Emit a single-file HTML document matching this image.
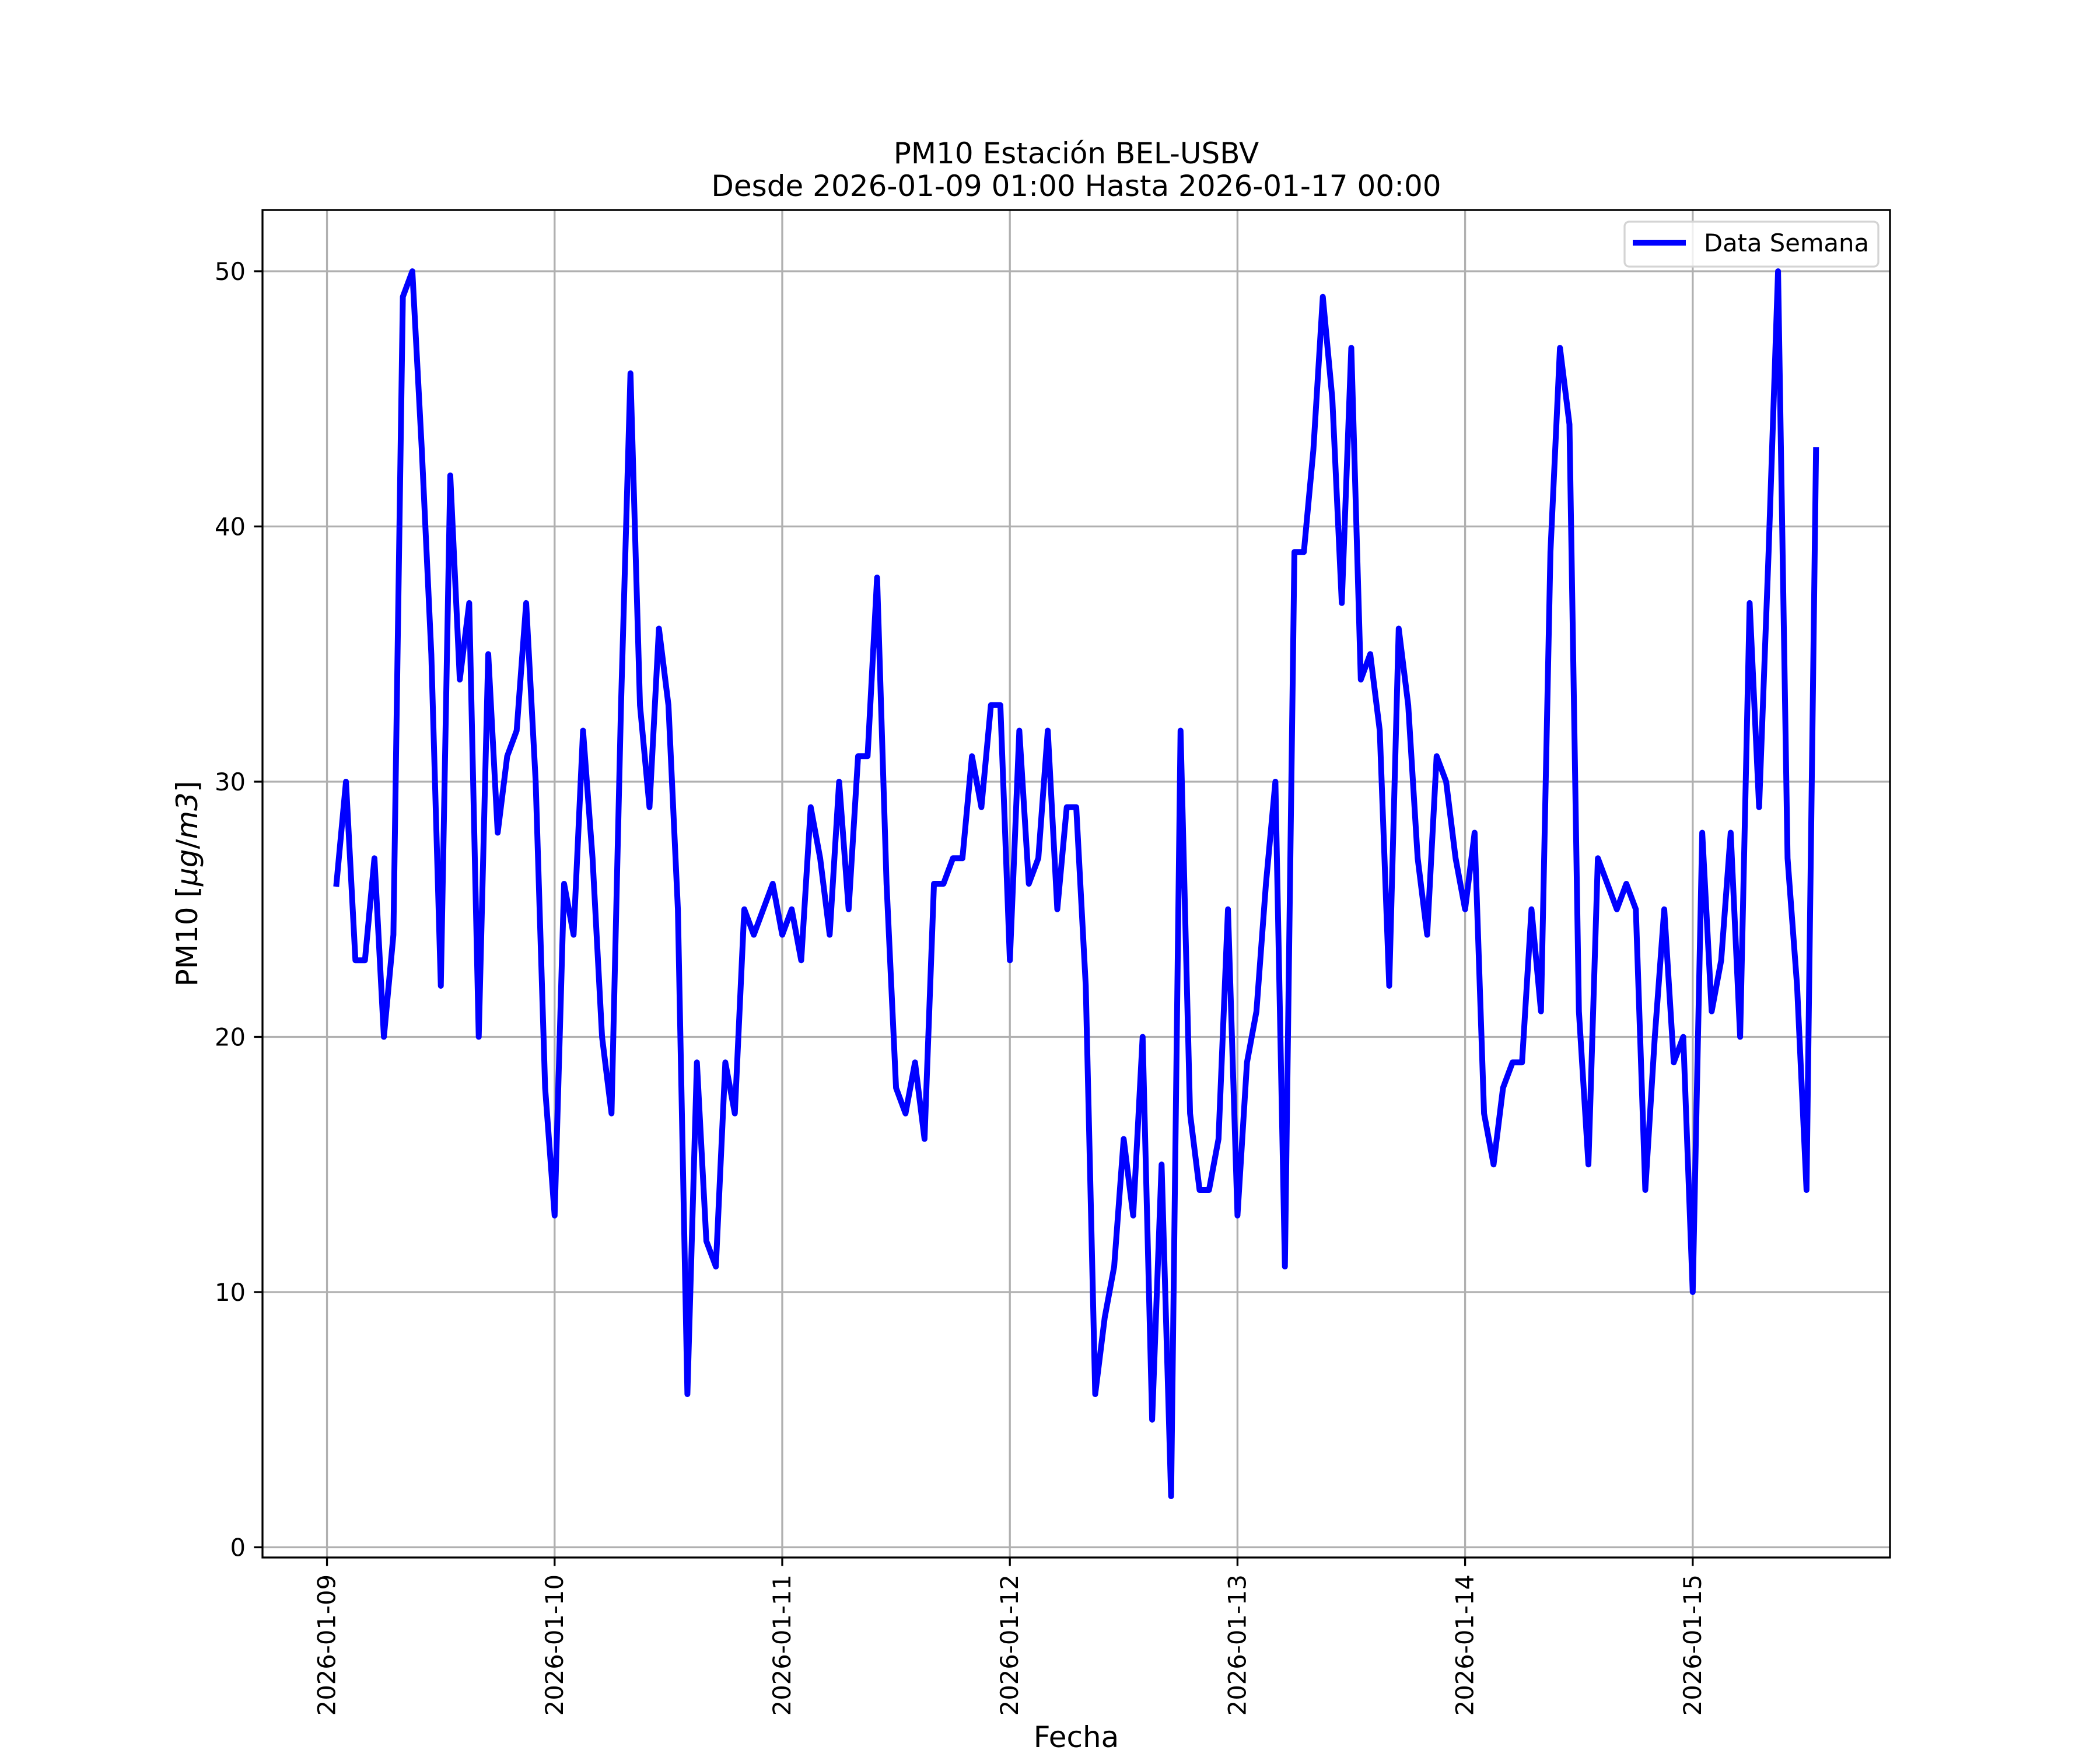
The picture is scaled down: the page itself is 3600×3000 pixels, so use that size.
<!DOCTYPE html>
<html><head><meta charset="utf-8"><style>body{margin:0;background:#fff}svg{display:block}text{font-family:"DejaVu Sans","Liberation Sans",sans-serif}</style></head>
<body>
<svg id="chart" width="3600" height="3000" viewBox="0 0 3600 3000" xmlns="http://www.w3.org/2000/svg">
<rect width="3600" height="3000" fill="#fff"/>
<g id="grid"></g>
<g id="series"></g>
<rect x="450" y="360" width="2790" height="2310" fill="none" stroke="#000" stroke-width="3.3"/>
<g id="ticks"></g>
<text x="1845" y="280" font-size="50" text-anchor="middle">PM10 Estación BEL-USBV</text>
<text x="1845" y="336" font-size="50" text-anchor="middle">Desde 2026-01-09 01:00 Hasta 2026-01-17 00:00</text>
<text x="1845" y="2995" font-size="50" text-anchor="middle">Fecha</text>
<text transform="translate(338,1515) rotate(-90)" font-size="50" text-anchor="middle">PM10 [<tspan font-style="italic">μg</tspan>/<tspan font-style="italic">m3</tspan>]</text>
<g>
<rect x="2785" y="380" width="435" height="77" rx="8" fill="#fff" fill-opacity="0.8" stroke="#d4d4d4" stroke-width="3.3"/>
<line x1="2799" y1="416" x2="2890" y2="416" stroke="#0000ff" stroke-width="10"/>
<text x="2921" y="431" font-size="41.7">Data Semana</text>
</g>
</svg>
<script>
const values = [26,30,23,23,27,20,24,49,50,43,35,22,42,34,37,20,35,28,31,32,37,30,18,13,
26,24,32,27,20,17,33,46,33,29,36,33,25,6,19,12,11,19,17,25,24,25,26,24,
25,23,29,27,24,30,25,31,31,38,26,18,17,19,16,26,26,27,27,31,29,33,33,23,
32,26,27,32,25,29,29,22,6,9,11,16,13,20,5,15,2,32,17,14,14,16,25,13,
19,21,26,30,11,39,39,43,49,45,37,47,34,35,32,22,36,33,27,24,31,30,27,25,
28,17,15,18,19,19,25,21,39,47,44,21,15,27,26,25,26,25,14,20,25,19,20,10,
28,21,23,28,20,37,29,39,50,27,22,14,43];
const startHour = 1;
const xTickLabels = ["2026-01-09","2026-01-10","2026-01-11","2026-01-12","2026-01-13","2026-01-14","2026-01-15"];
const yTickLabels = [0,10,20,30,40,50];
const NS="http://www.w3.org/2000/svg";
const L=450,R=3240,T=360,B=2670;
const xmin=-6.8, xmax=164.8, ymin=-0.4, ymax=52.4;
function xs(h){return L+(h-xmin)/(xmax-xmin)*(R-L);}
function ys(v){return B-(v-ymin)/(ymax-ymin)*(B-T);}
function mk(tag,attrs,parent){const e=document.createElementNS(NS,tag);for(const k in attrs)e.setAttribute(k,attrs[k]);parent.appendChild(e);return e;}
const grid=document.getElementById('grid'),ticks=document.getElementById('ticks'),series=document.getElementById('series');
xTickLabels.forEach((lab,i)=>{
  const x=xs(i*24);
  const g=mk('line',{x1:x,y1:T,x2:x,y2:B,stroke:'#b0b0b0','stroke-width':3.3},grid);
  
  
  const t=mk('line',{x1:x,y1:B,x2:x,y2:B+14.6,stroke:'#000','stroke-width':3.3},ticks);
  
  
  const tx=mk('text',{transform:`translate(${x+14},${B+29}) rotate(-90)`,'font-size':41.7,'text-anchor':'end'},ticks);
  tx.textContent=lab;
  
  
});
yTickLabels.forEach(v=>{
  const y=ys(v);
  const g=mk('line',{x1:L,y1:y,x2:R,y2:y,stroke:'#b0b0b0','stroke-width':3.3},grid);
  
  
  const t=mk('line',{x1:L-14.6,y1:y,x2:L,y2:y,stroke:'#000','stroke-width':3.3},ticks);
  
  
  const tx=mk('text',{x:L-29,y:y+15,'font-size':41.7,'text-anchor':'end'},ticks);
  tx.textContent=v;
  
  
});
const pts=values.map((v,i)=>xs(startHour+i).toFixed(1)+','+ys(v).toFixed(1)).join(' ');
const line=mk('polyline',{points:pts,fill:'none',stroke:'#0000ff','stroke-width':10,'stroke-linejoin':'round','stroke-linecap':'square'},series);


</script>
</body></html>
